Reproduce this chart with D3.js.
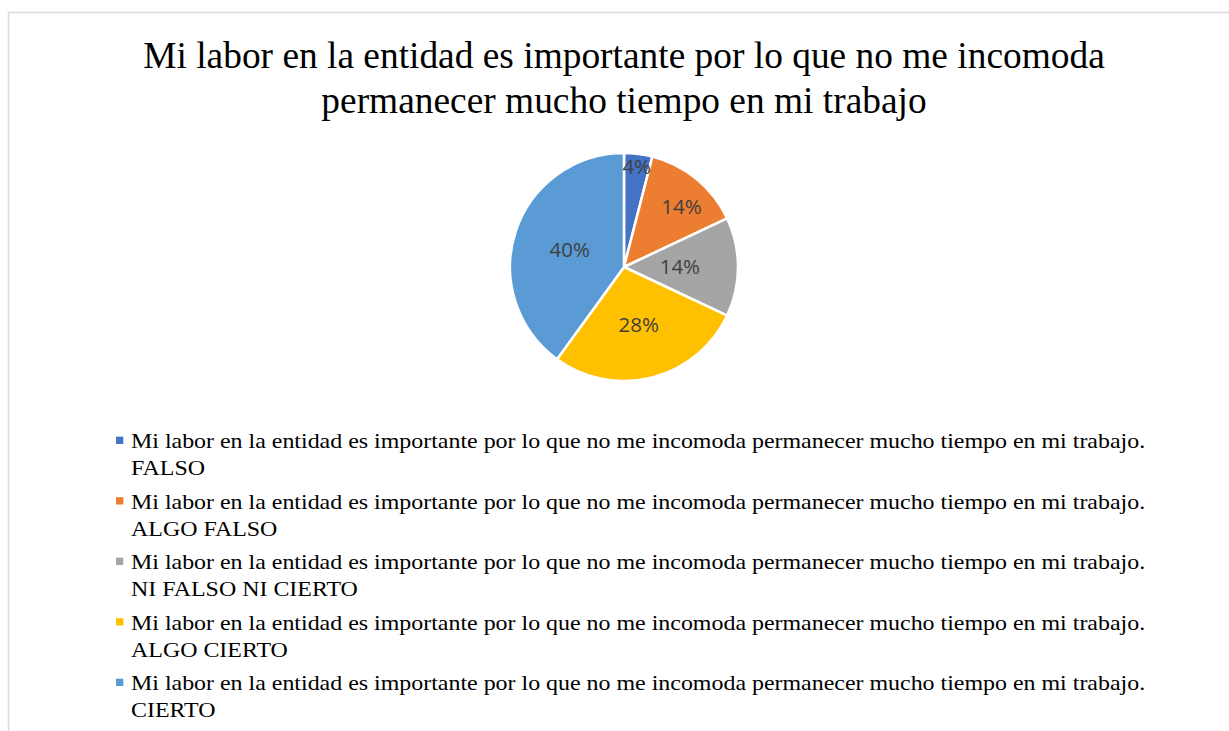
<!DOCTYPE html>
<html><head><meta charset="utf-8">
<script src="https://cdn.jsdelivr.net/npm/d3@7"></script>
<style>html,body{margin:0;padding:0;background:#fff;}svg{display:block;}</style>
</head><body>
<svg id="chart" width="1229" height="731"></svg>
<script>
const titleLines = ["Mi labor en la entidad es importante por lo que no me incomoda", "permanecer mucho tiempo en mi trabajo"];
const legendPrefix = "Mi labor en la entidad es importante por lo que no me incomoda permanecer mucho tiempo en mi trabajo.";
const categories = ["FALSO", "ALGO FALSO", "NI FALSO NI CIERTO", "ALGO CIERTO", "CIERTO"];
const values = [4, 14, 14, 28, 40];
const colors = ["#4472c4", "#ed7d31", "#a5a5a5", "#ffc000", "#5b9bd5"];
const labelRadiusFactor = [0.89, 0.73, 0.49, 0.52, 0.5];
const labelAngleShift = [0, 0.07, 0, 0, 0];

const svg = d3.select("#chart");
svg.append("rect").attr("x", 8.5).attr("y", 12.5).attr("width", 1240).attr("height", 740)
  .attr("fill", "none").attr("stroke", "#d9d9d9").attr("stroke-width", 1.5);

const serif = "'Liberation Serif','Times New Roman',serif";

svg.append("g").selectAll("text").data(titleLines).join("text")
  .attr("x", 624).attr("y", (d, i) => 67.5 + i * 45)
  .attr("text-anchor", "middle")
  .attr("font-family", serif)
  .attr("font-size", 37.4).attr("fill", "#000").text(d => d);

const cx = 624, cy = 267, r = 114;
const pie = d3.pie().sort(null).value(d => d)(values);
const arc = d3.arc().innerRadius(0).outerRadius(r);
const g = svg.append("g").attr("transform", `translate(${cx},${cy})`);
g.selectAll("path").data(pie).join("path")
  .attr("d", arc).attr("fill", (d, i) => colors[i])
  .attr("stroke", "#fff").attr("stroke-width", 2.5).attr("stroke-linejoin", "round");

const total = d3.sum(values);
g.selectAll("text").data(pie).join("text")
  .attr("transform", (d, i) => {
    const a = (d.startAngle + d.endAngle) / 2 + labelAngleShift[i];
    const rr = r * labelRadiusFactor[i];
    return `translate(${Math.sin(a) * rr},${-Math.cos(a) * rr})`;
  })
  .attr("text-anchor", "middle").attr("dy", "0.36em")
  .attr("font-family", "'Open Sans','Noto Sans',sans-serif")
  .attr("font-size", 20.5).attr("fill", "#404040")
  .text(d => Math.round(d.value / total * 100) + "%");

// legend
const lg = svg.append("g");
const targetW = 1015;
categories.forEach((c, i) => {
  const y0 = 448 + i * 60.5;
  lg.append("rect").attr("x", 116).attr("y", y0 - 11.3).attr("width", 7.3).attr("height", 7.3).attr("fill", colors[i]);
  const t = lg.append("text").attr("font-family", serif).attr("font-size", 22).attr("fill", "#000");
  [legendPrefix, c].forEach((l, j) => t.append("tspan").attr("x", 0).attr("y", j * 27.5).text(l));
  const w = t.select("tspan").node().getComputedTextLength();
  t.attr("transform", `translate(131,${y0}) scale(${targetW / w},1)`);
});
</script>
</body></html>
